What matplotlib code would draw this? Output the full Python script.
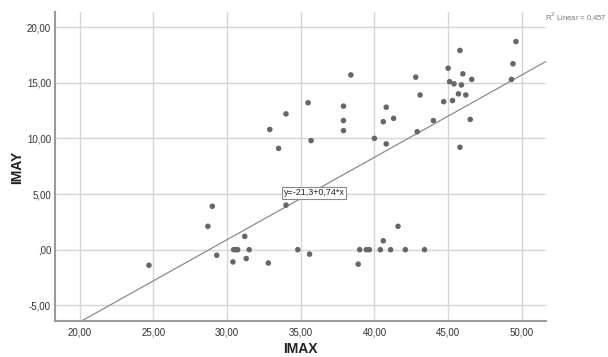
import numpy as np
import matplotlib as mat
mat.use("Agg")
from matplotlib import pyplot as plt

plt.rcParams['font.family'] = ['Liberation Sans', 'DejaVu Sans']

# IMAX / IMAY values
imax = [24.7, 28.7, 29.0, 29.3, 30.4, 30.45, 30.6, 30.72, 31.2, 31.3, 31.5, 32.8,
        32.9, 33.5, 34.0, 34.0, 34.8, 35.5, 35.6, 35.7, 37.9, 37.9, 37.9, 38.4,
        38.9, 39.0, 39.45, 39.65, 40.0, 40.4, 40.6, 40.6, 40.8, 40.8, 41.1, 41.3,
        41.6, 42.1, 42.8, 42.9, 43.1, 43.4, 44.0, 44.7, 45.0, 45.1, 45.3, 45.4,
        45.7, 45.8, 45.8, 45.9, 46.0, 46.2, 46.5, 46.6, 49.3, 49.4, 49.6]
imay = [-1.4, 2.1, 3.9, -0.5, -1.1, 0.0, 0.0, 0.0, 1.2, -0.8, 0.0, -1.2,
        10.8, 9.1, 12.2, 4.0, 0.0, 13.2, -0.4, 9.8, 12.9, 11.6, 10.7, 15.7,
        -1.3, 0.0, 0.0, 0.0, 10.0, 0.0, 0.8, 11.5, 12.8, 9.5, 0.0, 11.8,
        2.1, 0.0, 15.5, 10.6, 13.9, 0.0, 11.6, 13.3, 16.3, 15.1, 13.4, 14.9,
        14.0, 17.9, 9.2, 14.8, 15.8, 13.9, 11.7, 15.3, 15.3, 16.7, 18.7]
intercept, slope = -21.3, 0.74
r2_text = "R$^2$ Linear = 0,457"

xticks = [20, 25, 30, 35, 40, 45, 50]
yticks = [-5, 0, 5, 10, 15, 20]


def fmt(v):
    s = f"{v:.2f}".replace(".", ",")
    return ",00" if v == 0 else s


fig = plt.figure(figsize=(6.08, 3.57), dpi=100)
ax = fig.add_axes([0.0908, 0.1017, 0.8072, 0.8655])
ax.set_xlim(18.34, 51.64)
ax.set_ylim(-6.38, 21.38)

ax.set_xticks(xticks)
ax.set_yticks(yticks)
ax.set_xticklabels([fmt(v) for v in xticks])
ax.set_yticklabels([fmt(v) for v in yticks])
ax.tick_params(length=0, labelsize=7, colors="#333333", pad=3)
ax.tick_params(axis="x", pad=5)
ax.grid(True, color="#d6d6d6", linewidth=1.0)
ax.set_axisbelow(True)
for s in ["top", "right"]:
    ax.spines[s].set_visible(False)
for s in ["left", "bottom"]:
    ax.spines[s].set_color("#9a9a9a")
    ax.spines[s].set_linewidth(1.5)

xs = np.array([18.34, 51.64])
ax.plot(xs, intercept + slope * xs, color="#8a8a8a", linewidth=0.9, zorder=2)
ax.scatter(imax, imay, s=16, color="#666666", edgecolors="none", zorder=3)

ax.text(33.85, 5.1, "y=-21,3+0,74*x", fontsize=6.5, va="center", ha="left", color="#222222",
        bbox=dict(boxstyle="square,pad=0.2", facecolor="white", edgecolor="#8a8a8a", linewidth=0.8),
        zorder=4)

fig.text(545 / 608, 1 - 17 / 357, r2_text, fontsize=5.5, color="#777777", va="center", ha="left")

fig.text(300 / 608, 1 - 349 / 357, "IMAX", fontsize=10, fontweight="bold", color="#222222",
         ha="center", va="center")
fig.text(17 / 608, 1 - 167 / 357, "IMAY", fontsize=10, fontweight="bold", color="#222222",
         ha="center", va="center", rotation=90)

plt.savefig("out.png", dpi=100)
